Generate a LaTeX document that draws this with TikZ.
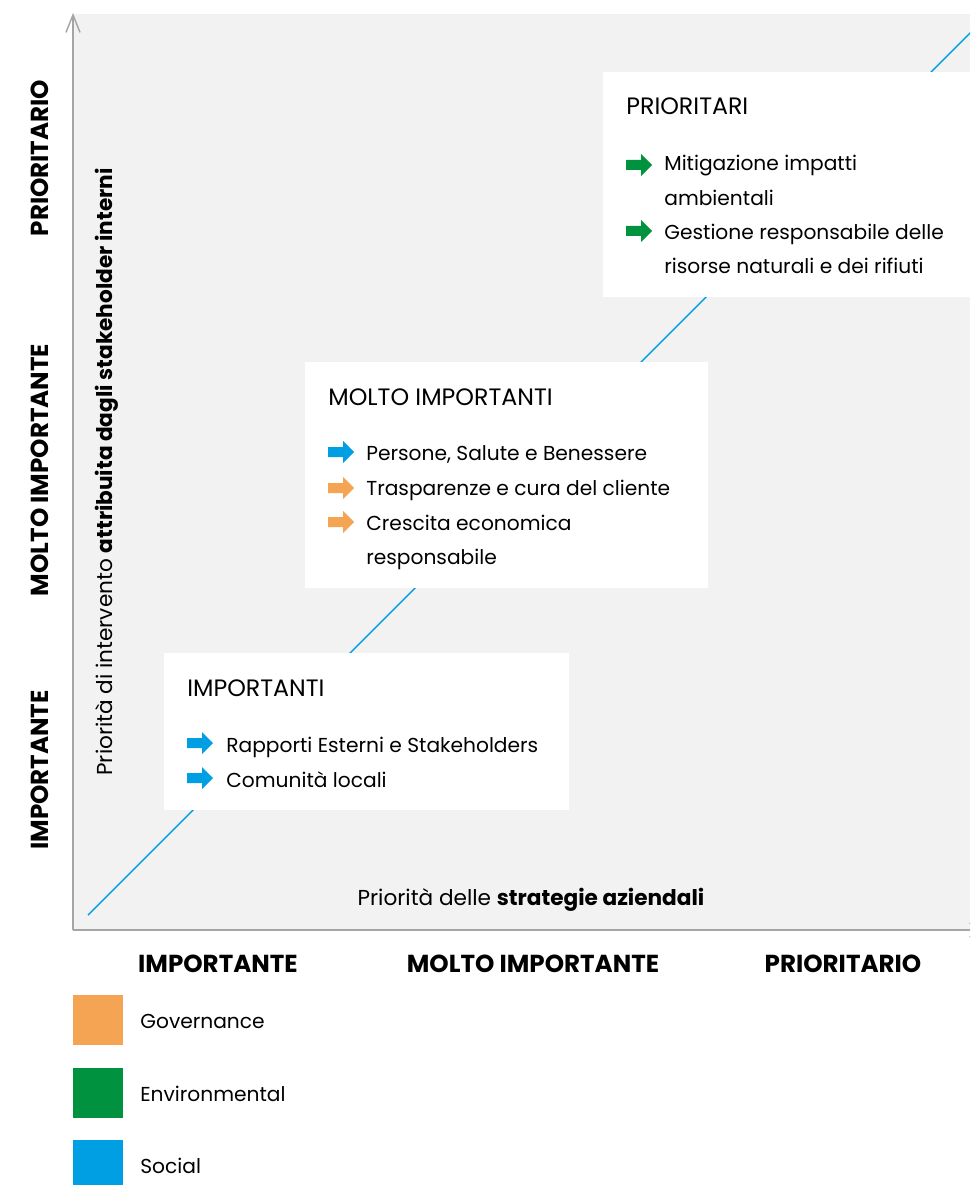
\documentclass[tikz,border=0pt]{standalone}
\usepackage{fontspec}
\setmainfont{Poppins}
\usetikzlibrary{arrows.meta}
\definecolor{govorange}{HTML}{F5A454}
\definecolor{envgreen}{HTML}{00923F}
\definecolor{socblue}{HTML}{009FE3}
\definecolor{panelgray}{HTML}{F2F2F2}
\definecolor{axisgray}{HTML}{A5A5A5}
\tikzset{
  bullet/.pic={\fill (0,-5) -- (15,-5) -- (15,-11) -- (26,0) -- (15,11) -- (15,5) -- (0,5) -- cycle;},
  boxtitle/.style={anchor=base west, inner sep=0, font=\fontsize{13.5}{16}\selectfont},
  itemtext/.style={anchor=base west, inner sep=0, font=\fontsize{11.5}{14}\selectfont},
  level/.style={inner sep=0, font=\fontsize{14}{16}\selectfont\bfseries},
  axistitle/.style={inner sep=0, font=\fontsize{12.3}{14}\selectfont},
  legendtext/.style={inner sep=0, anchor=west, font=\fontsize{11.5}{14}\selectfont},
}
\begin{document}
\begin{tikzpicture}[x=0.02cm,y=-0.02cm]
\useasboundingbox (0,0) rectangle (970,1185);
\clip (0,0) rectangle (970,1185);

% panel and diagonal
\fill[panelgray] (74,14) rectangle (970,930);
\coordinate (diagA) at (88,915);
\coordinate (diagB) at (989,14);
\draw[socblue, line width=0.8pt] (diagA) -- (diagB);

% axes
\coordinate (origin) at (73,930);
\coordinate (ytip) at (73,13);
\coordinate (xtip) at (989,930);
\draw[axisgray, line width=0.8pt, -{Straight Barb[length=10pt,width=8pt]}] (origin) -- (ytip);
\draw[axisgray, line width=0.8pt, -{Straight Barb[length=10pt,width=8pt]}] (origin) -- (xtip);

% white boxes
\fill[white] (603,72) rectangle (975,297);
\fill[white] (305,362) rectangle (708,588);
\fill[white] (164,653) rectangle (569,810);

% PRIORITARI
\node[boxtitle] (prioT) at (626,115) {PRIORITARI};
\foreach \y in {165,231} \pic[envgreen] at (626,\y) {bullet};
\node[itemtext] (prio1) at (664,171) {Mitigazione impatti};
\node[itemtext] (prio1b) at (664,206) {ambientali};
\node[itemtext] (prio2) at (664,240) {Gestione responsabile delle};
\node[itemtext] (prio2b) at (664,274) {risorse naturali e dei rifiuti};

% MOLTO IMPORTANTI
\node[boxtitle] (moltoT) at (328,405) {MOLTO IMPORTANTI};
\foreach \c/\y in {socblue/452, govorange/488, govorange/522} \pic[\c] at (328,\y) {bullet};
\node[itemtext] (molto1) at (366,460) {Persone, Salute e Benessere};
\node[itemtext] (molto2) at (366,495) {Trasparenze e cura del cliente};
\node[itemtext] (molto3) at (366,530) {Crescita economica};
\node[itemtext] (molto3b) at (366,564) {responsabile};

% IMPORTANTI
\node[boxtitle] (impT) at (187,696) {IMPORTANTI};
\foreach \y in {743,778} \pic[socblue] at (187,\y) {bullet};
\node[itemtext] (imp1) at (226,752) {Rapporti Esterni e Stakeholders};
\node[itemtext] (imp2) at (226,787) {Comunità locali};

% axis levels
\node[level, rotate=90] (yhigh) at (40,158) {PRIORITARIO};
\node[level, rotate=90] (ymid) at (40,470) {MOLTO IMPORTANTE};
\node[level, rotate=90] (ylow) at (40,770) {IMPORTANTE};
\node[level] (xlow) at (218,964) {IMPORTANTE};
\node[level] (xmid) at (533,964) {MOLTO IMPORTANTE};
\node[level] (xhigh) at (843,964) {PRIORITARIO};

% axis titles
\node[axistitle, rotate=90] (ytitle) at (107,472) {Priorità di intervento \textbf{attribuita dagli stakeholder interni}};
\node[axistitle] (xtitle) at (531,900) {Priorità delle \textbf{strategie aziendali}};

% legend
\foreach \c/\y/\t in {govorange/995/Governance, envgreen/1068/Environmental, socblue/1140/Social} {
  \fill[\c] (73,\y) rectangle (123,\y+50);
  \node[legendtext] (leg\y) at (140,\y+26) {\t};
}
\end{tikzpicture}
\end{document}
